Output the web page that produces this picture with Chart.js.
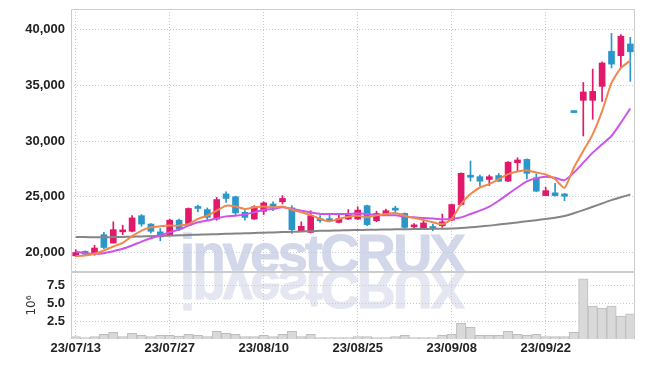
<!DOCTYPE html>
<html>
<head>
<meta charset="utf-8">
<script src="https://cdn.jsdelivr.net/npm/chart.js@4"></script>
<style>
  html, body { margin: 0; padding: 0; background: #fff; }
  #wrap { position: relative; width: 645px; height: 366px; overflow: hidden; }
  canvas { position: absolute; left: 0; }
  #price { top: 0; }
  #volume { top: 266px; }
  .wm {
    position: absolute; left: 180px; top: 226px;
    font: bold 54px 'Liberation Sans', Arial, sans-serif;
    line-height: 54px; letter-spacing: -2.6px; white-space: nowrap;
    color: #d2d7e9; -webkit-text-stroke: 1px #d2d7e9;
  }
  .wm.mirror {
    transform: scaleY(-1); transform-origin: 0 45.7px;
    color: #e4e7f1; -webkit-text-stroke: 1px #e4e7f1;
  }
</style>
</head>
<body>
<div id="wrap">
  <div class="wm">investCRUX</div>
  <div class="wm mirror">investCRUX</div>
  <canvas id="price" width="645" height="272"></canvas>
  <canvas id="volume" width="645" height="100"></canvas>
</div>
<script>
// ---- data ----
const dates = [
  "23/07/13", "23/07/14", "23/07/17", "23/07/18", "23/07/19", "23/07/20", "23/07/21", "23/07/24", "23/07/25", "23/07/26",
  "23/07/27", "23/07/28", "23/07/31", "23/08/01", "23/08/02", "23/08/03", "23/08/04", "23/08/07", "23/08/08", "23/08/09",
  "23/08/10", "23/08/11", "23/08/14", "23/08/16", "23/08/17", "23/08/18", "23/08/21", "23/08/22", "23/08/23", "23/08/24",
  "23/08/25", "23/08/28", "23/08/29", "23/08/30", "23/08/31", "23/09/01", "23/09/04", "23/09/05", "23/09/06", "23/09/07",
  "23/09/08", "23/09/11", "23/09/12", "23/09/13", "23/09/14", "23/09/15", "23/09/18", "23/09/19", "23/09/20", "23/09/21",
  "23/09/22", "23/09/25", "23/09/26", "23/09/27", "23/10/04", "23/10/05", "23/10/06", "23/10/10", "23/10/11", "23/10/12",
];

const open = [
  19700, 20100, 19900, 21600, 20850, 21850, 21900, 23300, 22550, 21850,
  21600, 22900, 22450, 24050, 23850, 23000, 25250, 25000, 23600, 23000,
  23700, 24350, 24550, 24000, 21950, 21800, 23000, 22950, 22700, 23000,
  23000, 24200, 22850, 23350, 23950, 23500, 22300, 22150, 22300, 22400,
  22900, 24300, 26900, 26800, 26550, 26900, 26400, 28050, 28350, 26700,
  25100, 25350, 25250, 32550, 33650, 33650, 34900, 38050, 37650, 38700,
];
const high = [
  20250, 20150, 20650, 21800, 22750, 22450, 23300, 23400, 22600, 22150,
  23000, 23000, 24000, 24250, 24000, 24950, 25450, 25050, 23750, 24200,
  24550, 24550, 25100, 24200, 22750, 23750, 23300, 23400, 23450, 23850,
  24100, 24250, 23700, 23900, 24150, 23550, 22600, 22850, 22550, 23450,
  24350, 27150, 28200, 26950, 26950, 27100, 28150, 28500, 28400, 27050,
  25850, 26200, 25300, 32550, 35250, 36450, 37100, 39650, 39550, 39300,
];
const low = [
  19650, 19800, 19750, 20350, 20850, 21600, 21850, 22350, 21750, 21050,
  21550, 21950, 22400, 23650, 22900, 22900, 24500, 23300, 22900, 22950,
  23400, 23750, 24350, 21700, 21900, 21750, 22700, 22750, 22650, 22950,
  22950, 22400, 22750, 23300, 23450, 22150, 22100, 22150, 21950, 22250,
  22850, 24250, 26400, 25950, 26000, 26350, 26350, 27300, 26600, 25450,
  25100, 25050, 24650, 32550, 30450, 31950, 33550, 36550, 36600, 35350,
];
const close = [
  20000, 19850, 20400, 20450, 22050, 22000, 23100, 22550, 21900, 21400,
  22900, 22100, 23950, 23950, 23150, 24750, 24850, 23550, 23150, 24100,
  24450, 24150, 24850, 22050, 22350, 23300, 22850, 22850, 23050, 23450,
  23800, 22500, 23500, 23750, 23800, 22250, 22450, 22650, 22150, 22750,
  24300, 27100, 26750, 26400, 26800, 26400, 28100, 28300, 27100, 25500,
  25550, 25100, 25050, 32550, 34400, 34450, 37000, 36900, 39400, 38000,
];

// moving-average lines
const maShort = [
  19670, 19730, 19880, 20180, 20540, 20860, 21460, 21960, 22260, 22350,
  22410, 22410, 22560, 23010, 23300, 23750, 24200, 24130, 23900, 24050,
  24130, 24050, 24130, 23840, 23600, 23370, 23010, 22800, 23010, 23210,
  23300, 23150, 23330, 23450, 23540, 23300, 23100, 22920, 22710, 22530,
  23010, 24350, 25240, 25830, 26130, 26580, 27030, 27260, 27380, 27170,
  27000, 26580, 25800, 27620, 29110, 30600, 32680, 35210, 36550, 37210,
];
const maMid = [
  20090, 19940, 19880, 19940, 20120, 20330, 20630, 20980, 21280, 21520,
  21810, 22050, 22410, 22710, 22860, 23060, 23240, 23300, 23420, 23600,
  23840, 23900, 24050, 23900, 23750, 23600, 23450, 23450, 23450, 23450,
  23510, 23450, 23370, 23330, 23330, 23210, 23150, 23100, 23040, 22980,
  23010, 23150, 23450, 23750, 24110, 24640, 25240, 25830, 26370, 26670,
  26800, 26700, 26490, 27170, 28060, 28960, 29700, 30450, 31640, 32920,
];
const maLong = [
  21400, 21380, 21370, 21370, 21380, 21400, 21420, 21440, 21460, 21480,
  21510, 21540, 21570, 21600, 21620, 21640, 21670, 21700, 21720, 21750,
  21770, 21800, 21830, 21850, 21880, 21910, 21940, 21960, 21980, 22000,
  22020, 22030, 22050, 22060, 22080, 22090, 22100, 22110, 22120, 22130,
  22150, 22200, 22260, 22330, 22410, 22500, 22600, 22700, 22800, 22900,
  23000, 23120, 23280, 23520, 23800, 24100, 24400, 24700, 24950, 25200,
];

// volume in millions of shares
const volume = [
  0.33, 0.2, 0.33, 0.65, 0.93, 0.33, 0.8, 0.5, 0.33, 0.5,
  0.5, 0.4, 0.65, 0.5, 0.33, 1.07, 0.8, 0.65, 0.33, 0.33,
  0.5, 0.33, 0.65, 1.07, 0.33, 0.65, 0.2, 0.2, 0.2, 0.2,
  0.33, 0.33, 0.2, 0.2, 0.33, 0.5, 0.2, 0.2, 0.2, 0.5,
  0.65, 2.2, 1.64, 0.5, 0.5, 0.5, 1.07, 0.65, 0.5, 0.65,
  0.33, 0.33, 0.33, 0.93, 8.4, 4.6, 4.3, 4.6, 3.2, 3.5,
];

const priceTicks = [20000, 25000, 30000, 35000, 40000];
const volumeTicks = [2.5, 5, 7.5];
const labelEvery = 10;

// ---- styling ----
const RED = "#e2196a";
const BLUE = "#2997c9";
const GRID = "#c3c8da";
const TICK_FONT = {
  family: "'Liberation Sans', Arial, sans-serif",
  size: 13,
  weight: "bold",
};

const candleColors = close.map((c, i) => (c > open[i] ? RED : BLUE));
const dateGrid = (c) => (c.index % labelEvery === 0 ? GRID : "rgba(0,0,0,0)");

// no extra room for the outer tick labels: plot areas must line up exactly
const noPad = (s) => {
  s.paddingTop = 0;
  s.paddingBottom = 0;
  s.paddingLeft = 0;
  s.paddingRight = 0;
};

// light frame round the plot area
const framePlugin = {
  id: "frame",
  afterDraw(chart) {
    const { ctx, chartArea: a } = chart;
    const l = Math.round(a.left) + 0.5;
    const r = Math.round(a.right) - 0.5;
    const t = Math.round(a.top) + 0.5;
    const b = Math.round(a.bottom) - 0.5;
    ctx.save();
    ctx.strokeStyle = "#cccccc";
    ctx.lineWidth = 1;
    ctx.beginPath();
    ctx.moveTo(l, b);
    ctx.lineTo(l, t);
    ctx.lineTo(r, t);
    ctx.lineTo(r, b);
    if (chart.canvas.id === "price") ctx.lineTo(l, b);
    ctx.stroke();
    ctx.restore();
  },
};

const lineStyle = (color) => ({
  type: "line",
  borderColor: color,
  borderWidth: 2,
  pointRadius: 0,
  tension: 0.2,
  order: 0,
});

new Chart(document.getElementById("price"), {
  type: "bar",
  data: {
    labels: dates,
    datasets: [
      { ...lineStyle("#f0884b"), data: maShort },
      { ...lineStyle("#cc55e8"), data: maMid },
      { ...lineStyle("#858585"), data: maLong },
      {
        data: open.map((o, i) => [o, close[i]]),
        backgroundColor: candleColors,
        barThickness: 6,
        minBarLength: 2,
        grouped: false,
        order: 1,
      },
      {
        data: low.map((l, i) => [l, high[i]]),
        backgroundColor: candleColors,
        barThickness: 1,
        grouped: false,
        order: 2,
      },
    ],
  },
  options: {
    responsive: false,
    animation: false,
    devicePixelRatio: 1,
    layout: { padding: { left: 0, right: 10, top: 9, bottom: 0 } },
    plugins: { legend: { display: false }, tooltip: { enabled: false } },
    scales: {
      x: {
        offset: true,
        grid: { offset: false, drawTicks: false, color: dateGrid },
        border: { display: false, dash: [1, 2] },
        ticks: { display: false },
        afterFit: (s) => { noPad(s); s.height = 0; },
      },
      y: {
        min: 18250,
        max: 41840,
        afterBuildTicks: (s) => { s.ticks = priceTicks.map((v) => ({ value: v })); },
        afterFit: (s) => { noPad(s); s.width = 71; },
        grid: { drawTicks: false, color: GRID },
        border: { display: false, dash: [1, 2] },
        ticks: {
          padding: 6,
          color: "#222",
          font: TICK_FONT,
          callback: (v) => v.toLocaleString("en-US"),
        },
      },
    },
  },
  plugins: [framePlugin],
});

new Chart(document.getElementById("volume"), {
  type: "bar",
  data: {
    labels: dates,
    datasets: [
      {
        data: volume,
        backgroundColor: "#d9d9d9",
        borderColor: "#bdbdbd",
        borderWidth: 1,
        barPercentage: 1,
        categoryPercentage: 1,
      },
    ],
  },
  options: {
    responsive: false,
    animation: false,
    devicePixelRatio: 1,
    layout: { padding: { left: 0, right: 10, top: 6, bottom: 0 } },
    plugins: { legend: { display: false }, tooltip: { enabled: false } },
    scales: {
      x: {
        offset: true,
        grid: { offset: false, drawTicks: false, color: dateGrid },
        border: { display: false, dash: [1, 2] },
        ticks: {
          autoSkip: false,
          maxRotation: 0,
          padding: 2,
          color: "#222",
          font: TICK_FONT,
          callback: (v, i) => (i % labelEvery === 0 ? dates[i] : ""),
        },
        afterFit: (s) => { noPad(s); s.height = 27; },
      },
      y: {
        min: 0,
        max: 9.35,
        afterBuildTicks: (s) => { s.ticks = volumeTicks.map((v) => ({ value: v })); },
        afterFit: (s) => { noPad(s); s.width = 71; },
        grid: { drawTicks: false, color: GRID },
        border: { display: false, dash: [1, 2] },
        ticks: {
          padding: 6,
          color: "#222",
          font: TICK_FONT,
          callback: (v) => v.toFixed(1),
        },
        title: {
          display: true,
          text: "10⁶",
          color: "#333",
          font: { family: "'DejaVu Sans', sans-serif", size: 12 },
          padding: { top: 25, bottom: 0 },
        },
      },
    },
  },
  plugins: [framePlugin],
});
</script>
</body>
</html>
